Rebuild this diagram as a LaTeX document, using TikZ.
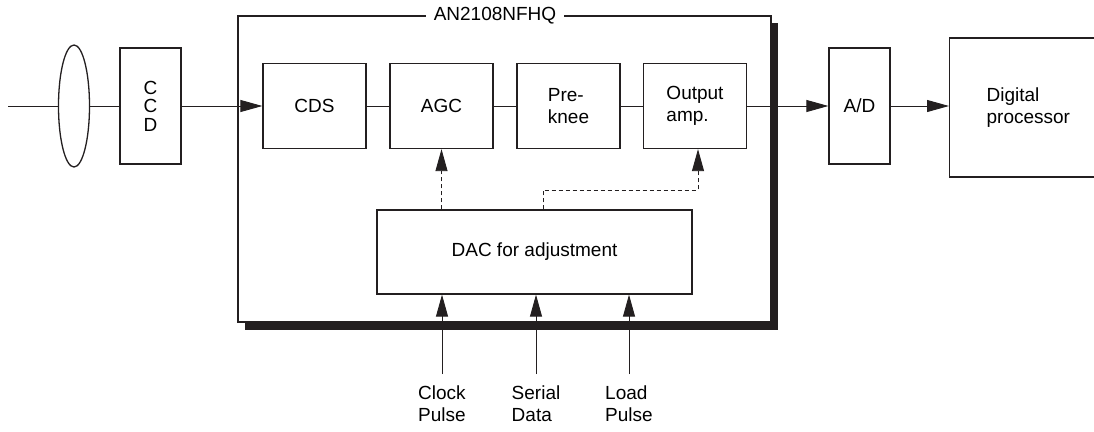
\documentclass[tikz,border=0pt]{standalone}
\usepackage{fontspec}
\setmainfont{Liberation Sans}
\usetikzlibrary{arrows.meta,shapes.geometric}
\definecolor{ink}{RGB}{35,31,32}
\begin{document}
\begin{tikzpicture}[x=1pt,y=-1pt,
  font=\fontsize{19}{22}\selectfont,
  blk/.style={draw=ink,line width=1.3pt,minimum width=103pt,minimum height=85pt,inner sep=0pt,align=left},
  tall/.style={draw=ink,line width=1.3pt,minimum width=61pt,minimum height=116pt,inner sep=0pt,align=center},
  wire/.style={draw=ink,line width=0.9pt},
  arr/.style={wire,-{Triangle[length=22pt,width=12pt]}},
  dsh/.style={arr,dash pattern=on 4pt off 3pt},
  lbl/.style={anchor=north,inner sep=0pt,align=left},
]
\useasboundingbox (0,0) rectangle (1094,431);
\clip (0,0) rectangle (1094,431);

% chip outline with shadow
\fill[ink] (245,23) rectangle (778,330);
\node[draw=ink,fill=white,line width=1.8pt,minimum width=533pt,minimum height=306pt,inner sep=0pt] (chip) at (504.5,169) {};
\node[fill=white,inner xsep=8pt,inner ysep=2pt] (title) at (495,16) {AN2108NFHQ};

% optics and sensor
\coordinate (src) at (8,106);
\node[draw=ink,line width=1.3pt,ellipse,minimum width=31pt,minimum height=122pt,inner sep=0pt] (lens) at (74,106) {};
\node[tall,font=\fontsize{19}{18.5}\selectfont] (ccd) at (150.5,106) {C\\C\\D};

% signal chain
\node[blk] (cds) at (314.5,106) {CDS};
\node[blk] (agc) at (441.5,106) {AGC};
\node[blk] (pre) at (568.5,106) {Pre-\\knee};
\node[blk] (out) at (695,106) {Output\\amp.};
\node[tall] (ad) at (859.5,106) {A/D};
\node[draw=ink,line width=1.3pt,anchor=west,minimum height=139pt,text width=143pt,inner xsep=37pt,inner ysep=0pt,align=left] (dp) at (949,107.5) {Digital\\processor};

\node[draw=ink,line width=1.3pt,minimum width=315pt,minimum height=84pt,inner sep=0pt] (dac) at (534.5,252) {DAC for adjustment};

% connectors
\draw[wire] (src) -- (lens);
\draw[wire] (lens) -- (ccd);
\draw[arr] (ccd) -- (cds);
\draw[wire] (cds) -- (agc);
\draw[wire] (agc) -- (pre);
\draw[wire] (pre) -- (out);
\draw[arr] (out) -- (ad);
\draw[arr] (ad) -- (ad -| dp.west);

% control lines
\draw[dsh] (dac.north -| agc) -- (agc.south);
\coordinate (b1) at (543,190);
\coordinate (b2) at (698,190);
\draw[dsh] (b1 |- dac.north) -- (b1) -- (b2) -- (b2 |- out.south);

% external inputs
\coordinate (cp) at (442,374);
\coordinate (sd) at (536,374);
\coordinate (lp) at (629,374);
\draw[arr] (cp) -- (cp |- dac.south);
\draw[arr] (sd) -- (sd |- dac.south);
\draw[arr] (lp) -- (lp |- dac.south);
\node[lbl] (cpl) at (442,386) {Clock\\Pulse};
\node[lbl] (sdl) at (536,386) {Serial\\Data};
\node[lbl] (lpl) at (629,386) {Load\\Pulse};
\end{tikzpicture}
\end{document}
